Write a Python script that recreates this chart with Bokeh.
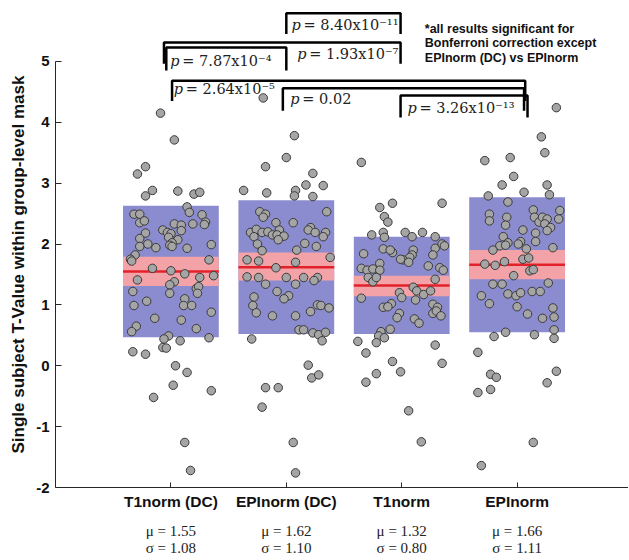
from bokeh.plotting import figure
from bokeh.models import FixedTicker, LinearAxis, Title, ColumnDataSource
from bokeh.core.properties import value
from bokeh.embed import file_html
from bokeh.resources import INLINE

# ---------------- data ----------------
categories = ["T1norm (DC)", "EPInorm (DC)", "T1norm", "EPInorm"]
means = [1.55, 1.62, 1.32, 1.66]
sds = [1.08, 1.10, 0.80, 1.11]
ci_low = [1.31, 1.40, 1.14, 1.42]
ci_high = [1.79, 1.86, 1.48, 1.90]

t1dc_vals = [4.15, 3.71, 3.27, 3.15, 2.88, 2.79, 2.87, 2.82, 2.85, 2.61, 2.52, 2.49, 2.49, 2.35,
             2.38, 2.48, 2.36, 2.32, 2.33, 2.33, 2.31, 2.22, 2.23, 2.19, 2.17, 2.11, 2.07, 2.02,
             1.98, 1.96, 2.18, 2.09, 2.00, 1.96, 1.94, 1.93, 1.99, 1.82, 1.75, 1.72, 1.74, 1.60,
             1.56, 1.51, 1.45, 1.48, 1.41, 1.38, 1.33, 1.27, 1.30, 1.22, 1.19, 1.19, 1.06, 0.99,
             1.10, 0.99, 0.99, 0.88, 0.78, 0.75, 0.65, 0.56, 0.61, 0.49, 0.44, 0.30, 0.29, 0.41,
             0.46, 0.23, 0.19, 0.00, -0.11, -0.32, -0.41, -0.52, -1.26, -1.72]
t1dc_jit = [-0.09, 0.03, -0.22, -0.29, -0.16, -0.22, 0.06, 0.20, 0.25, 0.14, 0.16, -0.32, -0.27, -0.27,
            -0.23, 0.27, 0.30, 0.29, 0.19, 0.03, 0.09, 0.09, -0.07, -0.03, 0.00, -0.02, 0.06, 0.01,
            -0.01, 0.01, -0.22, -0.27, -0.20, -0.27, -0.13, 0.14, 0.35, -0.31, -0.35, -0.34, 0.33, -0.16,
            0.00, 0.12, 0.25, 0.37, -0.29, 0.03, -0.01, 0.22, 0.24, -0.33, -0.01, 0.23, -0.21, -0.32,
            0.12, 0.11, 0.18, 0.35, -0.14, 0.09, -0.30, -0.34, 0.22, -0.02, -0.06, -0.07, -0.04, 0.08,
            0.33, -0.33, -0.22, 0.04, 0.14, 0.02, 0.35, -0.15, 0.12, 0.17]

epidc_vals = [4.40, 3.78, 3.42, 3.27, 3.16, 2.88, 2.84, 2.88, 2.79, 2.97, 2.96, 2.78, 2.53, 2.49,
              2.44, 2.53, 2.35, 2.35, 2.27, 2.19, 2.24, 2.12, 2.19, 2.20, 2.15, 2.23, 2.15, 2.13,
              2.07, 2.23, 2.19, 2.19, 2.12, 2.00, 2.01, 1.96, 1.89, 1.90, 1.78, 1.74, 1.72, 1.70,
              1.61, 1.46, 1.45, 1.34, 1.45, 1.34, 1.45, 1.45, 1.40, 1.22, 1.13, 1.15, 1.10, 0.99,
              0.87, 0.82, 0.82, 0.89, 1.00, 0.99, 0.95, 0.59, 0.59, 0.54, 0.51, 0.55, 0.41, 0.44,
              0.01, -0.20, -0.15, -0.36, -0.36, -0.68, -1.26, -1.76]
epidc_jit = [-0.20, 0.07, 0.00, -0.18, 0.23, -0.37, -0.17, 0.08, 0.07, 0.17, 0.32, 0.23, -0.23, -0.18,
             -0.20, 0.35, -0.09, 0.06, 0.21, -0.31, -0.26, -0.28, -0.21, -0.16, -0.12, -0.06, -0.08, -0.02,
             -0.07, 0.19, 0.25, 0.34, 0.32, -0.25, 0.16, 0.26, -0.21, 0.09, 0.38, -0.34, -0.24, 0.08,
             -0.09, -0.34, -0.24, -0.18, 0.00, 0.08, 0.15, 0.27, 0.24, -0.08, -0.28, 0.02, -0.02, -0.29,
             -0.26, -0.12, 0.08, 0.21, 0.27, 0.30, 0.37, 0.11, 0.15, 0.23, 0.28, 0.34, 0.31, -0.30,
             0.19, 0.22, 0.28, -0.18, -0.07, -0.21, 0.06, 0.08]

t1_vals = [3.34, 2.60, 2.67, 2.67, 2.45, 2.36, 2.15, 2.19, 2.11, 2.19, 2.12, 2.19, 2.12, 1.93,
           2.00, 1.97, 1.84, 1.92, 1.86, 1.90, 1.90, 1.82, 1.78, 1.74, 1.70, 1.75, 1.82, 1.68,
           1.60, 1.57, 1.59, 1.57, 1.64, 1.61, 1.57, 1.45, 1.38, 1.45, 1.42, 1.29, 1.23, 1.20,
           1.12, 1.17, 1.23, 1.08, 1.11, 0.96, 1.02, 0.97, 1.01, 0.96, 0.86, 0.79, 0.77, 0.70,
           0.86, 0.90, 0.82, 0.60, 0.56, 0.49, 0.46, 0.38, 0.40, 0.34, 0.21, 0.07, -0.10, 0.04,
           -0.13, -0.27, -0.74, -1.25]
t1_jit = [-0.35, -0.19, -0.08, 0.35, -0.15, -0.12, -0.26, -0.16, -0.15, 0.03, 0.09, 0.18, 0.29, 0.29,
          0.35, 0.37, -0.33, -0.16, -0.08, -0.10, 0.10, 0.09, 0.07, 0.01, 0.06, -0.01, 0.27, -0.19,
          -0.35, -0.30, -0.25, -0.19, 0.23, 0.33, 0.36, -0.29, -0.25, -0.22, 0.29, 0.10, 0.13, -0.02,
          0.00, 0.19, 0.25, 0.12, -0.35, -0.16, -0.09, -0.12, 0.27, 0.31, -0.02, -0.04, 0.11, 0.15,
          0.27, 0.30, 0.34, -0.10, -0.18, -0.20, -0.15, -0.22, -0.38, 0.29, -0.31, -0.08, -0.01, 0.35,
          -0.22, -0.31, 0.06, 0.17]

epi_vals = [4.24, 3.76, 3.50, 3.37, 3.42, 3.11, 2.97, 2.97, 2.79, 2.85, 2.81, 2.69, 2.49, 2.38,
            2.44, 2.31, 2.56, 2.44, 2.36, 2.44, 2.41, 2.33, 2.55, 2.41, 2.27, 2.22, 2.23, 2.18,
            2.04, 2.12, 2.02, 1.97, 1.90, 2.04, 2.00, 1.92, 1.98, 1.94, 1.67, 1.65, 1.71, 1.75,
            1.77, 1.56, 1.58, 1.48, 1.34, 1.34, 1.36, 1.15, 1.18, 1.15, 1.20, 1.22, 1.22, 1.02,
            0.97, 0.85, 0.95, 0.80, 0.78, 0.59, 0.45, 0.48, 0.55, 0.51, 0.22, -0.14, -0.19, -0.44,
            -0.39, -0.09, -0.28, -1.26, -1.64]
epi_jit = [0.34, 0.21, 0.24, -0.28, -0.06, -0.03, -0.13, 0.26, -0.25, 0.06, 0.28, -0.08, -0.24, -0.24,
           -0.09, -0.10, 0.14, 0.15, 0.19, 0.22, 0.26, 0.24, 0.37, 0.36, 0.29, 0.26, 0.05, 0.16,
           0.16, -0.12, -0.08, -0.15, -0.21, 0.03, 0.01, 0.08, -0.10, 0.31, -0.28, -0.19, -0.11, 0.05,
           0.10, 0.11, 0.14, -0.03, -0.21, -0.13, 0.27, -0.31, -0.08, -0.01, 0.03, 0.13, 0.20, -0.24,
           0.00, 0.09, 0.31, 0.32, 0.22, 0.32, 0.32, -0.20, -0.10, 0.15, -0.34, -0.23, -0.18, -0.34,
           -0.23, 0.34, 0.26, 0.14, -0.31]

group_vals = [t1dc_vals, epidc_vals, t1_vals, epi_vals]
group_jit = [t1dc_jit, epidc_jit, t1_jit, epi_jit]

# pairwise comparisons (group numbers) and p-values
pairs = [(2, 3), (1, 3), (1, 2), (1, 4), (2, 4), (3, 4)]
p_values = ["8.40x10⁻¹¹", "1.93x10⁻⁷", "7.87x10⁻⁴", "2.64x10⁻⁵", "0.02", "3.26x10⁻¹³"]
note_lines = ["*all results significant for", "Bonferroni correction except", "EPInorm (DC) vs EPInorm"]

# ---------------- layout of annotations ----------------
br_top = [5.79, 5.31, 5.23, 4.68, 4.56, 4.44]
br_foot = [5.45, 4.96, 4.85, 4.35, 4.19, 4.08]
br_nudge_l = [0.00, -0.06, -0.04, 0.01, -0.03, -0.01]
br_nudge_r = [-0.01, -0.01, 0.00, 0.07, 0.06, 0.09]
lab_x = [2.045, 2.095, 0.995, 1.025, 2.035, 3.05]
lab_y = [5.60, 5.12, 5.01, 4.55, 4.38, 4.24]

BOX_W = 0.83
BLUE = "#8b8bcf"
PINK = "#f3a3a7"
RED = "#e3212b"

p = figure(frame_width=573, frame_height=477, x_range=(0, 4.965), y_range=(-2, 5.836),
           output_backend="svg", toolbar_location=None,
           min_border_left=55, min_border_right=0, min_border_top=10, min_border_bottom=0,
           background_fill_color="white", border_fill_color="white")
p.outline_line_color = None
p.grid.visible = False

xs = [i + 1 for i in range(len(categories))]
box_src = ColumnDataSource(dict(
    x=xs,
    lo=[m - s for m, s in zip(means, sds)],
    hi=[m + s for m, s in zip(means, sds)],
    clo=ci_low, chi=ci_high, mean=means,
))
p.vbar(x="x", width=BOX_W, bottom="lo", top="hi", source=box_src,
       fill_color=BLUE, line_color=None)
p.vbar(x="x", width=BOX_W, bottom="clo", top="chi", source=box_src,
       fill_color=PINK, line_color=None)
p.segment(x0=[x - BOX_W / 2 for x in xs], x1=[x + BOX_W / 2 for x in xs],
          y0=means, y1=means, line_color=RED, line_width=2.5)

px, py = [], []
for i, (vals, jit) in enumerate(zip(group_vals, group_jit)):
    px += [xs[i] + j for j in jit]
    py += vals
p.scatter(px, py, size=8.5, fill_color="#a5a5a5", line_color="#3a3a3a", line_width=1)

# significance brackets
bxs, bys = [], []
for k, (g1, g2) in enumerate(pairs):
    xl = g1 + br_nudge_l[k]
    xr = g2 + br_nudge_r[k]
    bxs.append([xl, xl, xr, xr])
    bys.append([br_foot[k], br_top[k], br_top[k], br_foot[k]])
p.multi_line(bxs, bys, line_color="black", line_width=2.5)

p.text(lab_x, lab_y, text=["p"] * len(p_values), text_font=value("DejaVu Serif"),
       text_font_style="italic", text_font_size="14.5px", text_baseline="middle",
       text_align="left", text_color="#222222")
p.text(lab_x, lab_y, text=["= " + v for v in p_values], text_font=value("DejaVu Serif"),
       text_font_size="14.5px", text_baseline="middle", text_align="left",
       text_color="#222222", x_offset=12)

p.text([3.20] * 3, [5.54, 5.295, 5.05], text=note_lines, text_font=value("Liberation Sans"),
       text_font_style="bold", text_font_size="12.5px", text_baseline="middle",
       text_align="left", text_color="#111111")

# axes
AX_COLOR = "#262626"
yax = p.yaxis[0]
yticks = list(range(-2, 6))
yax.ticker = FixedTicker(ticks=yticks)
yax.major_label_overrides = {t: str(t) for t in yticks}
yax.bounds = (-2, 5)
yax.major_tick_in = 6
yax.major_tick_out = 0
yax.minor_tick_line_color = None
yax.axis_line_color = AX_COLOR
yax.major_tick_line_color = AX_COLOR
yax.major_label_standoff = 6
yax.major_label_text_font = "Liberation Sans"
yax.major_label_text_font_style = "bold"
yax.major_label_text_font_size = "15px"
yax.major_label_text_color = "#111111"

xax = p.xaxis[0]
xax.ticker = FixedTicker(ticks=xs)
xax.major_label_overrides = {x: c for x, c in zip(xs, categories)}
xax.major_tick_in = 5
xax.major_tick_out = 0
xax.minor_tick_line_color = None
xax.axis_line_color = AX_COLOR
xax.major_tick_line_color = AX_COLOR
xax.major_label_standoff = 5
xax.major_label_text_font = "Liberation Sans"
xax.major_label_text_font_style = "bold"
xax.major_label_text_font_size = "15.5px"
xax.major_label_text_color = "#111111"

for labels, standoff in ((["μ = %.2f" % m for m in means], 10),
                         (["σ = %.2f" % s for s in sds], -2)):
    ax = LinearAxis(ticker=FixedTicker(ticks=xs),
                    major_label_overrides={x: t for x, t in zip(xs, labels)},
                    axis_line_color=None, major_tick_line_color=None,
                    minor_tick_line_color=None, major_tick_out=0, major_tick_in=0,
                    major_label_standoff=standoff)
    ax.major_label_text_font = "Liberation Serif"
    ax.major_label_text_font_size = "15px"
    ax.major_label_text_color = "#222222"
    p.add_layout(ax, "below")

ttl = Title(text="Single subject T-Value within group-level mask", align="left", offset=34,
            text_font="Liberation Sans", text_font_style="bold", text_font_size="17px",
            text_color="#111111", standoff=12)
p.add_layout(ttl, "left")

open("out.html", "w").write(file_html(p, INLINE))
